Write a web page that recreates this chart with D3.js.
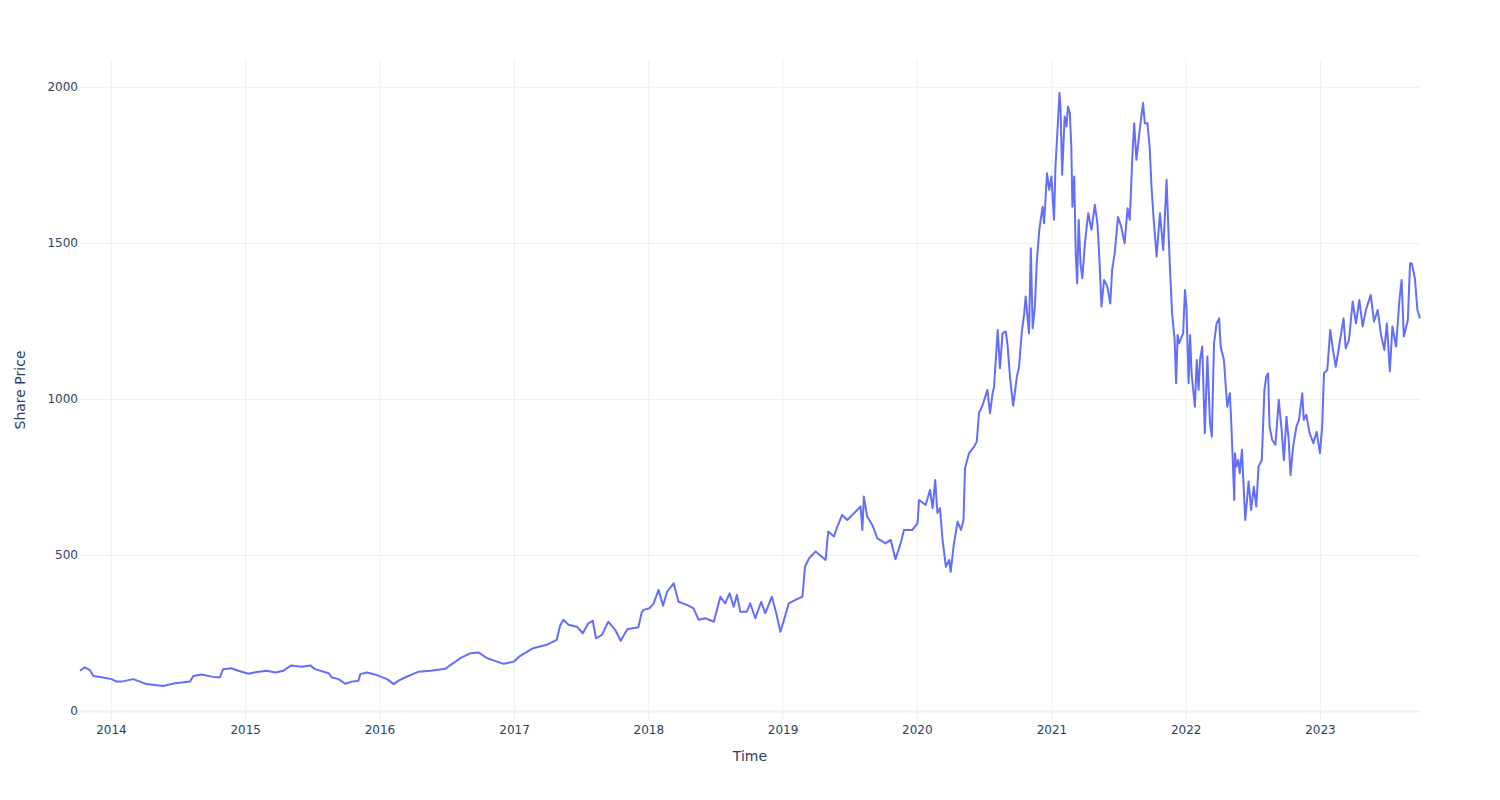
<!DOCTYPE html>
<html>
<head>
<meta charset="utf-8">
<script src="https://cdn.jsdelivr.net/npm/d3@7"></script>
<style>
  html, body { margin: 0; padding: 0; background: #ffffff; }
  svg { display: block; font-family: "DejaVu Sans", Verdana, sans-serif; }
</style>
</head>
<body>
<svg id="chart" width="1500" height="800"></svg>
<script>
const dates = [
"2013-10-09","2013-10-22","2013-11-05","2013-11-14","2013-12-07","2014-01-03","2014-01-16","2014-01-30","2014-03-03","2014-04-08",
"2014-05-23","2014-06-24","2014-08-04","2014-08-13","2014-09-05","2014-10-02","2014-10-24","2014-11-02","2014-11-25","2014-12-13",
"2015-01-10","2015-02-02","2015-03-01","2015-03-24","2015-04-15","2015-05-06","2015-06-04","2015-06-27","2015-07-10","2015-08-16",
"2015-08-25","2015-09-12","2015-09-30","2015-10-18","2015-11-05","2015-11-10","2015-11-28","2015-12-25","2016-01-22","2016-02-09",
"2016-02-22","2016-03-12","2016-04-17","2016-05-19","2016-06-29","2016-07-12","2016-08-08","2016-09-05","2016-09-27","2016-10-20",
"2016-11-16","2016-12-04","2016-12-31","2017-01-17","2017-02-22","2017-03-31","2017-04-27","2017-05-06","2017-05-15","2017-05-29",
"2017-06-21","2017-07-07","2017-07-22","2017-08-03","2017-08-12","2017-08-28","2017-09-14","2017-10-03","2017-10-18","2017-11-05",
"2017-12-05","2017-12-14","2017-12-19","2018-01-04","2018-01-15","2018-01-29","2018-02-10","2018-02-21","2018-03-11","2018-03-24",
"2018-04-16","2018-05-04","2018-05-18","2018-06-05","2018-06-28","2018-07-16","2018-07-29","2018-08-10","2018-08-21","2018-08-30",
"2018-09-08","2018-09-26","2018-10-05","2018-10-19","2018-11-04","2018-11-15","2018-12-03","2018-12-15","2018-12-26","2019-01-05",
"2019-01-18","2019-02-05","2019-02-24","2019-03-03","2019-03-14","2019-04-01","2019-04-28","2019-05-05","2019-05-21","2019-05-30",
"2019-06-12","2019-06-26","2019-07-19","2019-08-01","2019-08-06","2019-08-10","2019-08-19","2019-09-02","2019-09-16","2019-10-08",
"2019-10-22","2019-11-04","2019-11-18","2019-11-27","2019-12-20","2020-01-03","2020-01-07","2020-01-25","2020-02-06","2020-02-13",
"2020-02-20","2020-02-26","2020-03-04","2020-03-11","2020-03-20","2020-03-29","2020-04-02","2020-04-11","2020-04-21","2020-04-30",
"2020-05-07","2020-05-11","2020-05-22","2020-06-05","2020-06-12","2020-06-18","2020-06-28","2020-07-11","2020-07-18","2020-07-25",
"2020-07-29","2020-08-08","2020-08-14","2020-08-21","2020-08-30","2020-09-04","2020-09-11","2020-09-19","2020-09-29","2020-10-05",
"2020-10-12","2020-10-19","2020-10-23","2020-11-01","2020-11-06","2020-11-11","2020-11-17","2020-11-22","2020-11-29","2020-12-08",
"2020-12-12","2020-12-20","2020-12-26","2021-01-01","2021-01-08","2021-01-12","2021-01-19","2021-01-23","2021-01-26","2021-01-30",
"2021-02-06","2021-02-11","2021-02-15","2021-02-20","2021-02-24","2021-02-27","2021-03-04","2021-03-08","2021-03-12","2021-03-16",
"2021-03-21","2021-03-26","2021-04-02","2021-04-11","2021-04-20","2021-04-29","2021-05-06","2021-05-12","2021-05-17","2021-05-24",
"2021-06-02","2021-06-10","2021-06-15","2021-06-22","2021-07-01","2021-07-10","2021-07-19","2021-07-27","2021-08-02","2021-08-09",
"2021-08-14","2021-08-20","2021-08-29","2021-09-07","2021-09-12","2021-09-19","2021-09-25","2021-09-30","2021-10-06","2021-10-14",
"2021-10-23","2021-11-01","2021-11-10","2021-11-14","2021-11-19","2021-11-25","2021-12-02","2021-12-06","2021-12-10","2021-12-14",
"2021-12-25","2021-12-30","2022-01-03","2022-01-09","2022-01-13","2022-01-17","2022-01-26","2022-01-31","2022-02-05","2022-02-09",
"2022-02-15","2022-02-22","2022-03-01","2022-03-08","2022-03-13","2022-03-19","2022-03-26","2022-04-02","2022-04-06","2022-04-15",
"2022-04-20","2022-04-24","2022-05-01","2022-05-05","2022-05-09","2022-05-13","2022-05-15","2022-05-19","2022-05-24","2022-05-28",
"2022-06-03","2022-06-07","2022-06-12","2022-06-21","2022-06-28","2022-07-05","2022-07-12","2022-07-18","2022-07-27","2022-08-03",
"2022-08-08","2022-08-13","2022-08-17","2022-08-24","2022-09-02","2022-09-11","2022-09-18","2022-09-25","2022-10-02","2022-10-08",
"2022-10-13","2022-10-20","2022-10-29","2022-11-05","2022-11-14","2022-11-18","2022-11-25","2022-12-04","2022-12-14","2022-12-23",
"2023-01-01","2023-01-07","2023-01-12","2023-01-21","2023-01-29","2023-02-04","2023-02-13","2023-02-22","2023-03-06","2023-03-12",
"2023-03-21","2023-03-31","2023-04-09","2023-04-18","2023-04-27","2023-05-06","2023-05-19","2023-05-28","2023-06-07","2023-06-16",
"2023-06-25","2023-07-02","2023-07-10","2023-07-17","2023-07-27","2023-08-05","2023-08-11","2023-08-17","2023-08-28","2023-09-03",
"2023-09-08","2023-09-16","2023-09-23","2023-09-30"
];
const prices = [
129,140,131,112,108,102,94,94,102,86,
80,89,94,112,117,110,107,134,137,129,
119,125,129,123,129,146,142,146,134,121,
107,102,87,94,97,118,123,115,102,86,
97,108,126,129,135,147,169,185,187,169,
158,151,158,176,201,212,228,272,292,276,
270,249,281,289,233,244,286,260,225,262,
268,315,324,329,343,388,337,382,409,350,
340,329,292,297,286,366,345,377,334,372,
318,318,345,297,350,313,366,313,254,292,
345,356,366,462,489,511,484,575,559,591,
628,612,639,655,580,687,623,596,553,537,
548,486,537,580,580,601,676,660,708,650,
740,634,650,548,462,484,446,537,607,580,
612,778,826,847,863,954,981,1029,954,1018,
1039,1221,1098,1210,1216,1168,1061,978,1071,1103,
1210,1274,1328,1210,1483,1226,1296,1435,1542,1616,
1563,1723,1670,1713,1574,1745,1894,1980,1926,1718,
1905,1873,1937,1916,1809,1616,1713,1467,1370,1574,
1435,1387,1499,1595,1542,1622,1563,1435,1296,1381,
1360,1306,1413,1467,1583,1551,1499,1611,1574,1777,
1883,1766,1862,1948,1883,1883,1809,1681,1574,1456,
1595,1477,1702,1574,1424,1274,1189,1050,1205,1178,
1210,1349,1296,1050,1205,1082,975,1125,1029,1125,
1168,890,1136,922,879,1178,1242,1258,1168,1125,
1039,975,1018,922,800,676,826,783,804,762,
837,730,612,735,644,719,655,783,804,1029,
1071,1082,911,869,853,997,911,804,943,869,
756,847,911,933,1018,933,949,890,858,895,
826,911,1082,1093,1221,1168,1103,1168,1258,1162,
1189,1312,1242,1317,1232,1285,1333,1248,1285,1205,
1157,1242,1088,1232,1168,1317,1381,1200,1253,1435,
1433,1387,1285,1258
];
const yTicks = [0, 500, 1000, 1500, 2000];
const xTitle = "Time";
const yTitle = "Share Price";

const W = 1500, H = 800;
const m = { left: 80, right: 80, top: 60, bottom: 80 };
const iw = W - m.left - m.right, ih = H - m.top - m.bottom;

const parse = d3.timeParse("%Y-%m-%d");
const data = dates.map((d, i) => ({ date: parse(d), value: prices[i] }));

const svg = d3.select("#chart");
const g = svg.append("g").attr("transform", `translate(${m.left},${m.top})`);

const x = d3.scaleTime().domain(d3.extent(data, d => d.date)).range([0, iw]);
const y = d3.scaleLinear().domain([-29, 2086]).range([ih, 0]);

const textColor = "#2a3f5f";
const gridColor = "#ebf0f8";

// vertical grid
const xGrid = g.append("g").attr("transform", `translate(0,${ih})`)
  .call(d3.axisBottom(x).ticks(d3.timeYear.every(1)).tickSize(-ih).tickFormat(""));
xGrid.select(".domain").remove();
xGrid.selectAll("line").attr("stroke", gridColor).attr("stroke-width", 1);

// horizontal grid
const yGrid = g.append("g")
  .call(d3.axisLeft(y).tickValues(yTicks).tickSize(-iw).tickFormat(""));
yGrid.select(".domain").remove();
yGrid.selectAll("line").attr("stroke", gridColor).attr("stroke-width", d => d === 0 ? 2 : 1);

// x axis labels
const xAxis = g.append("g").attr("transform", `translate(0,${ih})`)
  .call(d3.axisBottom(x).ticks(d3.timeYear.every(1)).tickFormat(d3.timeFormat("%Y")).tickSize(0).tickPadding(5));
xAxis.select(".domain").remove();
xAxis.selectAll("text").attr("fill", textColor).style("font-size", "12px").style("font-family", "'DejaVu Sans', Verdana, sans-serif");

// y axis labels
const yAxis = g.append("g")
  .call(d3.axisLeft(y).tickValues(yTicks).tickFormat(d3.format("d")).tickSize(0).tickPadding(2));
yAxis.select(".domain").remove();
yAxis.selectAll("text").attr("fill", textColor).style("font-size", "12px").style("font-family", "'DejaVu Sans', Verdana, sans-serif");

// line
const line = d3.line().x(d => x(d.date)).y(d => y(d.value));
g.append("path").datum(data)
  .attr("fill", "none")
  .attr("stroke", "#636efa")
  .attr("stroke-width", 2)
  .attr("stroke-linejoin", "round")
  .attr("d", line);

// axis titles
svg.append("text")
  .attr("x", m.left + iw / 2).attr("y", 761)
  .attr("text-anchor", "middle")
  .attr("fill", textColor).style("font-size", "14px")
  .text(xTitle);

svg.append("text")
  .attr("transform", `translate(25,${m.top + ih / 2}) rotate(-90)`)
  .attr("text-anchor", "middle")
  .attr("fill", textColor).style("font-size", "14px")
  .text(yTitle);
</script>
</body>
</html>
